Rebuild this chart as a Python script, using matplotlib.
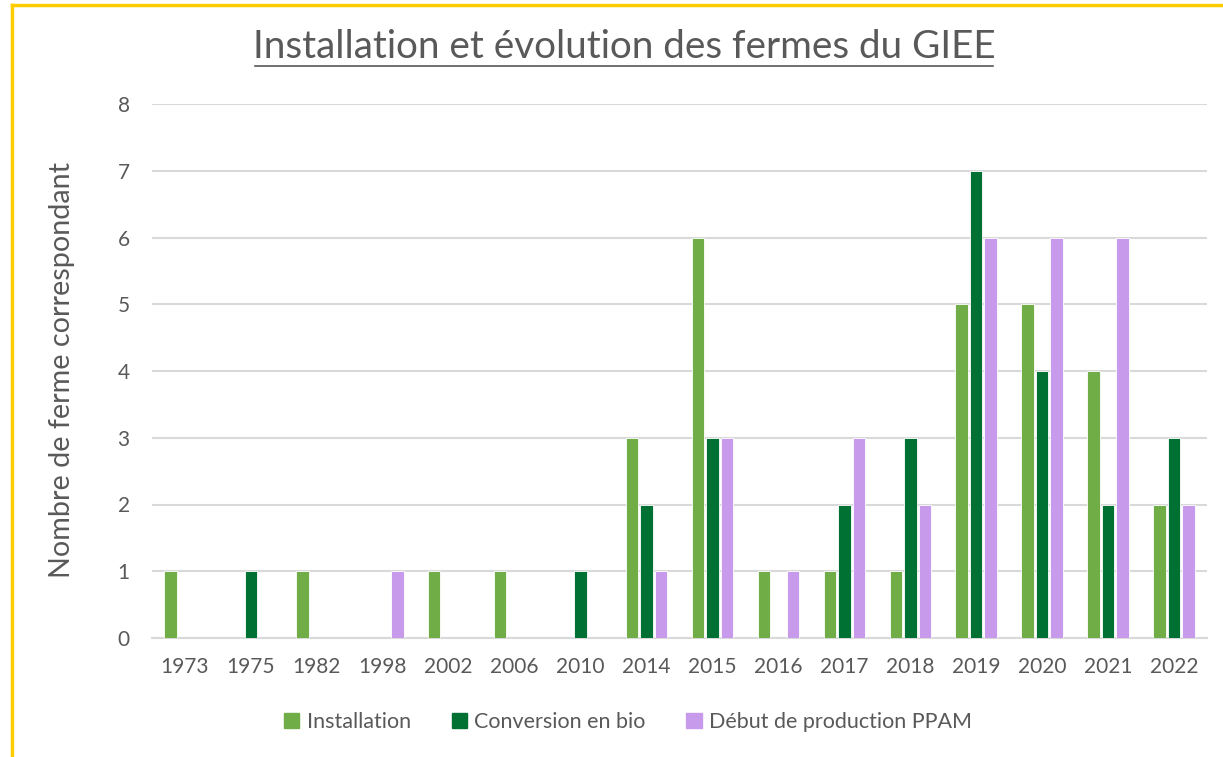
import numpy as np
import matplotlib
matplotlib.use('Agg')
import matplotlib.pyplot as plt
from matplotlib.patches import Patch
from matplotlib.lines import Line2D

years = ['1973', '1975', '1982', '1998', '2002', '2006', '2010', '2014',
         '2015', '2016', '2017', '2018', '2019', '2020', '2021', '2022']
installation = [1, 0, 1, 0, 1, 1, 0, 3, 6, 1, 1, 1, 5, 5, 4, 2]
conversion = [0, 1, 0, 0, 0, 0, 1, 2, 3, 0, 2, 3, 7, 4, 2, 3]
ppam = [0, 0, 0, 1, 0, 0, 0, 1, 3, 1, 3, 2, 6, 6, 6, 2]

series = [('Installation', installation, '#70AD47'),
          ('Conversion en bio', conversion, '#007033'),
          ('Début de production PPAM', ppam, '#C89AEC')]

grey = '#595959'
W, H = 1223, 757
fig = plt.figure(figsize=(W / 100, H / 100), dpi=100)
ax = fig.add_axes([152 / W, 1 - 638 / H, (1207 - 152) / W, (638 - 104) / H])

x = np.arange(len(years))
bw = 0.19
step = 0.22
for i, (name, vals, col) in enumerate(series):
    ax.bar(x + (i - 1) * step, vals, width=bw, color=col, label=name,
           edgecolor='white', linewidth=0.6, zorder=3)

ax.set_xlim(-0.5, len(years) - 0.5)
ax.set_ylim(0, 8)
ax.set_yticks(range(0, 9))
ax.grid(axis='y', color='#D9D9D9', linewidth=1.5, zorder=0)
for s in ['top', 'right', 'left']:
    ax.spines[s].set_visible(False)
ax.spines['bottom'].set_color('#D9D9D9')
ax.spines['bottom'].set_linewidth(1.5)
ax.set_xticks(x)
ax.set_xticklabels(years)
ax.tick_params(length=0, labelsize=15, colors=grey)
ax.tick_params(axis='x', pad=14)
ax.tick_params(axis='y', pad=16)
for lab in ax.get_xticklabels() + ax.get_yticklabels():
    lab.set_family('Lato')

# titre + axe y
fig.text(624 / W, 1 - 47 / H, 'Installation et évolution des fermes du GIEE',
         ha='center', va='center', fontsize=27.8, color=grey, family='Lato')
fig.add_artist(Line2D([255 / W, 993 / W], [1 - 66 / H, 1 - 66 / H],
                      color=grey, linewidth=1.2))
fig.text(62 / W, 1 - 370 / H, 'Nombre de ferme correspondant', rotation=90,
         ha='center', va='center', fontsize=20.7, color=grey, family='Lato')

handles = [Patch(color=c, label=n) for n, v, c in series]
fig.legend(handles=handles, loc='center', bbox_to_anchor=(628 / W, 1 - 722 / H),
           ncol=3, frameon=False, prop={'family': 'Lato', 'size': 15.5},
           labelcolor=grey, handlelength=0.7, handleheight=0.7,
           handletextpad=0.35, columnspacing=1.9)

# cadre jaune (gauche + haut)
fig.add_artist(Line2D([12 / W, 12 / W], [0, 1 - 5 / H], color='#FFCC00', linewidth=2.5))
fig.add_artist(Line2D([12 / W, 1], [1 - 5 / H, 1 - 5 / H], color='#FFCC00', linewidth=2.5))

fig.savefig('out.png', dpi=100)
